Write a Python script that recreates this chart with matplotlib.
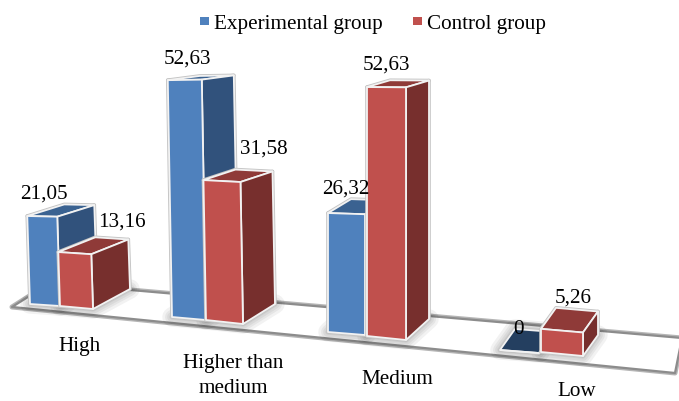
import matplotlib
matplotlib.use('Agg')
import matplotlib.pyplot as plt
from matplotlib.patches import Polygon, Rectangle

# Data
categories = ['High', 'Higher than\nmedium', 'Medium', 'Low']
experimental = [21.05, 52.63, 26.32, 0]
control = [13.16, 31.58, 52.63, 5.26]
series_names = ['Experimental group', 'Control group']

# Fake 3d layout in image pixels, one entry per category
blue_x = [(30, 60), (172, 206), (328, 365), (500, 539)]
blue_y = [(304, 306), (317, 320), (332, 335), (350, 353)]
red_x = [(60, 93), (206, 243), (367, 406), (541, 583)]
red_y = [(306, 309), (320, 324), (336, 340), (352, 356)]
blue_scale = [4.18, 4.5, 4.52, 4.4]
red_scale = [4.1, 4.43, 4.73, 4.4]
lean = [-0.13, -0.08, 0.0, 0.0]
depth_x = [37, 32, 23, 15]
depth_y = [-20, -20, -21, -21]
depth_rise = [0.4, 0.3, 0.27, 0.0]

BLUE = ('#4F81BD', '#31527C', '#3A6291')
RED = ('#C0504D', '#772F2D', '#8F3A38')
FONT_SIZE = 15.2


def draw_bar(ax, i, value, xs, ys, scale, colors):
    h = value * scale
    shift = value * lean[i]
    dx = depth_x[i]
    dy_low = depth_y[i]
    dy_top = depth_y[i] + value * depth_rise[i]

    # front corners
    bl = (xs[0], ys[0])
    br = (xs[1], ys[1])
    tl = (xs[0] + shift, ys[0] - h)
    tr = (xs[1] + shift, ys[1] - h * 1.015)
    # back corners
    bbr = (br[0] + dx, br[1] + dy_low)
    tbr = (tr[0] + dx, tr[1] + dy_top)
    tbl = (tl[0] + dx, tl[1] + dy_top)

    # soft shadow on the floor
    foot = [bl, br, bbr, (bl[0] + dx, bl[1] + dy_low)]
    for w in [14, 10, 7, 4]:
        ax.add_patch(Polygon(foot, closed=True, fc='none', ec='black', lw=w,
                             alpha=0.05, joinstyle='round', zorder=2))

    # thin grey halo then white edges, as in the office bevel style
    faces = [([tl, tr, tbr, tbl], colors[2]),
             ([br, bbr, tbr, tr], colors[1]),
             ([bl, br, tr, tl], colors[0])]
    for pts, col in faces:
        ax.add_patch(Polygon(pts, closed=True, fc='none', ec='#c4c4c4', lw=2.6,
                             joinstyle='round', zorder=3))
    for pts, col in faces:
        ax.add_patch(Polygon(pts, closed=True, fc=col, ec='#f2f2f2', lw=1.3,
                             joinstyle='round', zorder=3))


def fmt(v):
    if v == 0:
        return '0'
    return ('%.2f' % v).replace('.', ',')


plt.rcParams['font.family'] = ['Liberation Serif', 'DejaVu Serif']

fig = plt.figure(figsize=(6.79, 4.01), dpi=100)
ax = fig.add_axes([0, 0, 1, 1])
ax.set_xlim(0, 679)
ax.set_ylim(401, 0)
ax.set_axis_off()

# Floor
floor = [(12, 307), (675, 373), (682, 338), (50, 283)]
ax.add_patch(Polygon(floor, closed=True, fc='white', ec='#b5b5b5', lw=3.6, joinstyle='round', zorder=1))
ax.add_patch(Polygon(floor, closed=True, fc='white', ec='#8c8c8c', lw=1.6, joinstyle='round', zorder=1))

# Bars
for i in range(len(categories)):
    draw_bar(ax, i, experimental[i], blue_x[i], blue_y[i], blue_scale[i], BLUE if experimental[i] > 0 else ('#243F60', '#243F60', '#243F60'))
    draw_bar(ax, i, control[i], red_x[i], red_y[i], red_scale[i], RED)

# Data labels
blue_label_pos = [(44, 194), (187, 59), (346, 189), (518, 329)]
red_label_pos = [(122, 222), (264, 149), (386, 65), (573, 298)]
for i in range(len(categories)):
    ax.text(blue_label_pos[i][0], blue_label_pos[i][1], fmt(experimental[i]), fontsize=FONT_SIZE,
            ha='center', va='center', color='black', zorder=5)
    ax.text(red_label_pos[i][0], red_label_pos[i][1], fmt(control[i]), fontsize=FONT_SIZE,
            ha='center', va='center', color='black', zorder=5)

# Category labels
cat_pos = [(80, 346), (233, 376), (397, 379), (577, 392)]
for name, pos in zip(categories, cat_pos):
    ax.text(pos[0], pos[1], name, fontsize=FONT_SIZE, ha='center', va='center',
            linespacing=1.45, color='black', zorder=5)

# Legend
ax.add_patch(Rectangle((200, 17), 9, 8, fc=BLUE[0], ec='none', zorder=5))
ax.text(214, 24, series_names[0], fontsize=FONT_SIZE, ha='left', va='center', zorder=5)
ax.add_patch(Rectangle((413, 17), 9, 8, fc=RED[0], ec='none', zorder=5))
ax.text(427, 24, series_names[1], fontsize=FONT_SIZE, ha='left', va='center', zorder=5)

plt.savefig('out.png', dpi=100)
plt.close()
